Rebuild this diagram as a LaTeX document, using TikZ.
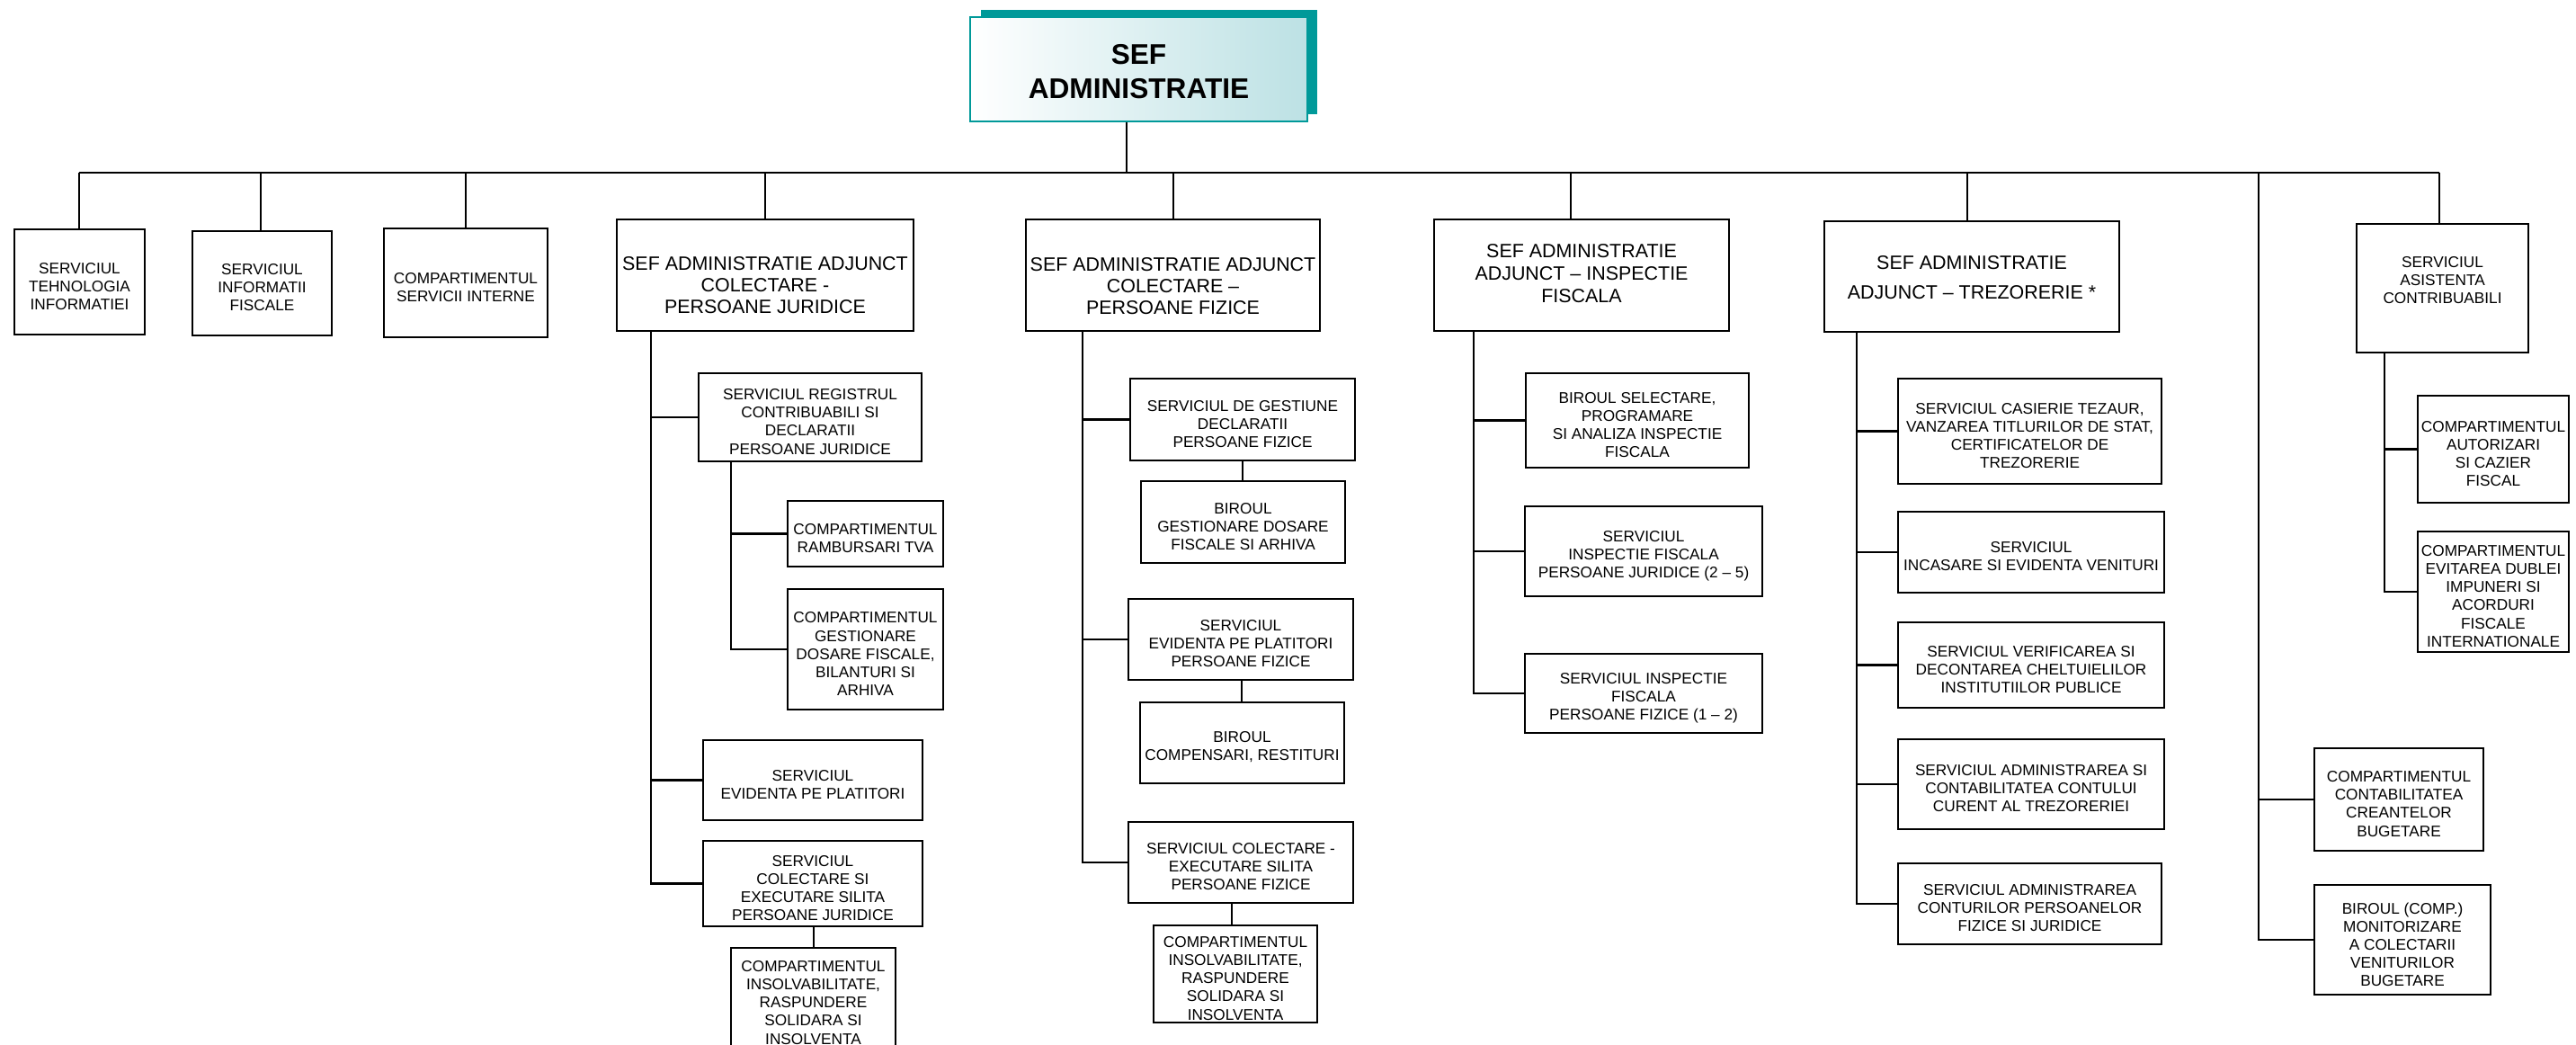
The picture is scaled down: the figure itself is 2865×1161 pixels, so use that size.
\documentclass[tikz,border=0pt]{standalone}
\usepackage{fontspec}
\setmainfont{Liberation Sans}
\usetikzlibrary{fit}
\definecolor{tealdark}{RGB}{0,153,153}
\definecolor{tealpale}{RGB}{188,225,228}
\tikzset{
  frame/.style={draw=black, line width=0.65pt, inner sep=0pt},
  basetxt/.style={align=center, inner sep=0pt, font=\fontsize{4.9}{5.7}\selectfont},
  txt/.style={basetxt, yshift=-0.5mm},
  deptxt/.style={align=center, inner sep=0pt, font=\fontsize{6.1}{6.85}\selectfont},
  conn/.style={draw=black, line width=0.65pt},
}
% \bx[text style]{name}{x1}{y1}{x2}{y2}{text}
\newcommand\bx[7][txt]{%
  \node[frame, fit={(#3,#4)(#5,#6)}] (#2) {};
  \node[#1] (#2-text) at (#2.center) {#7};}
\begin{document}
\begin{tikzpicture}[x=0.1mm, y=-0.1mm]
\useasboundingbox (0,0) rectangle (2865,1161);

% title
\node[fill=tealdark, inner sep=0pt, fit={(1091,11)(1465,127)}] (titleshadow) {};
\node[draw=tealdark, line width=0.8pt, inner sep=0pt, left color=white, right color=tealpale,
  fit={(1079,19)(1454,135)}] (title) {};
\node[align=center, inner sep=0pt, yshift=-0.25mm,
  font=\fontsize{9}{10.8}\selectfont\bfseries] (title-text) at (title.center) {SEF\\ADMINISTRATIE};

% first level
\bx{ti}{16}{255}{161}{372}{SERVICIUL\\TEHNOLOGIA\\INFORMATIEI}
\bx{info}{214}{257}{369}{373}{SERVICIUL\\INFORMATII\\FISCALE}
\bx{compint}{427}{254}{609}{375}{COMPARTIMENTUL\\SERVICII INTERNE}
\bx[{deptxt, yshift=-1.1mm}]{pj}{686}{244}{1016}{368}{SEF ADMINISTRATIE ADJUNCT\\COLECTARE -\\PERSOANE JURIDICE}
\bx[{deptxt, yshift=-1.2mm}]{pf}{1141}{244}{1468}{368}{SEF ADMINISTRATIE ADJUNCT\\COLECTARE --\\PERSOANE FIZICE}
\bx[{deptxt, font=\fontsize{6.1}{7.1}\selectfont, yshift=0.15mm}]{insp}{1595}{244}{1923}{368}{SEF ADMINISTRATIE\\ADJUNCT -- INSPECTIE\\FISCALA}
\bx[{deptxt, font=\fontsize{6.1}{9.4}\selectfont, yshift=-0.15mm}]{trez}{2029}{246}{2357}{369}{SEF ADMINISTRATIE\\ADJUNCT -- TREZORERIE *}
\bx[{basetxt, yshift=0.9mm}]{asist}{2621}{249}{2812}{392}{SERVICIUL\\ASISTENTA\\CONTRIBUABILI}

% bus coordinates
\coordinate (bti) at (88,192);
\coordinate (binfo) at (290,192);
\coordinate (bcomp) at (518,192);
\coordinate (bpj) at (851,192);
\coordinate (btitle) at (1253,192);
\coordinate (bpf) at (1305,192);
\coordinate (binsp) at (1747,192);
\coordinate (btrez) at (2188,192);
\coordinate (blong) at (2512,192);
\coordinate (basist) at (2713,192);

\draw[conn] (bti) -- (basist);
\draw[conn] (btitle |- title.south) -- (btitle);
\draw[conn] (bti) -- (bti |- ti.north);
\draw[conn] (binfo) -- (binfo |- info.north);
\draw[conn] (bcomp) -- (bcomp |- compint.north);
\draw[conn] (bpj) -- (bpj |- pj.north);
\draw[conn] (bpf) -- (bpf |- pf.north);
\draw[conn] (binsp) -- (binsp |- insp.north);
\draw[conn] (btrez) -- (btrez |- trez.north);
\draw[conn] (basist) -- (basist |- asist.north);

% PJ subtree
\bx{reg}{777}{415}{1025}{513}{SERVICIUL REGISTRUL\\CONTRIBUABILI SI\\DECLARATII\\PERSOANE JURIDICE}
\bx{ramb}{876}{557}{1049}{630}{COMPARTIMENTUL\\RAMBURSARI TVA}
\bx{gest}{876}{655}{1049}{789}{COMPARTIMENTUL\\GESTIONARE\\DOSARE FISCALE,\\BILANTURI SI\\ARHIVA}
\bx{evid}{782}{823}{1026}{912}{SERVICIUL\\EVIDENTA PE PLATITORI}
\bx{colect}{782}{935}{1026}{1030}{SERVICIUL\\COLECTARE SI\\EXECUTARE SILITA\\PERSOANE JURIDICE}
\bx{insolv}{813}{1054}{996}{1166}{COMPARTIMENTUL\\INSOLVABILITATE,\\RASPUNDERE\\SOLIDARA SI\\INSOLVENTA}
\coordinate (pjx) at (724,368);
\coordinate (regx) at (813,513);
\coordinate (colx) at (905,1030);
\draw[conn] (pj.south -| pjx) -- (pjx |- colect.west) -- (colect.west);
\draw[conn] (pjx |- reg.west) -- (reg.west);
\draw[conn] (pjx |- evid.west) -- (evid.west);
\draw[conn] (reg.south -| regx) -- (regx |- gest.west) -- (gest.west);
\draw[conn] (regx |- ramb.west) -- (ramb.west);
\draw[conn] (colect.south -| colx) -- (colx |- insolv.north);

% PF subtree
\bx{decl}{1257}{421}{1507}{512}{SERVICIUL DE GESTIUNE\\DECLARATII\\PERSOANE FIZICE}
\bx{birgest}{1269}{535}{1496}{626}{BIROUL\\GESTIONARE DOSARE\\FISCALE SI ARHIVA}
\bx{evidpf}{1255}{666}{1505}{756}{SERVICIUL\\EVIDENTA PE PLATITORI\\PERSOANE FIZICE}
\bx{compens}{1268}{781}{1495}{871}{BIROUL\\COMPENSARI, RESTITURI}
\bx{colpf}{1255}{914}{1505}{1004}{SERVICIUL COLECTARE -\\EXECUTARE SILITA\\PERSOANE FIZICE}
\bx{inspf}{1283}{1029}{1465}{1137}{COMPARTIMENTUL\\INSOLVABILITATE,\\RASPUNDERE\\SOLIDARA SI\\INSOLVENTA}
\coordinate (pfx) at (1204,368);
\coordinate (dx1) at (1382,512);
\coordinate (dx2) at (1381,756);
\coordinate (dx3) at (1370,1004);
\draw[conn] (pf.south -| pfx) -- (pfx |- colpf.west) -- (colpf.west);
\draw[conn] (pfx |- decl.west) -- (decl.west);
\draw[conn] (pfx |- evidpf.west) -- (evidpf.west);
\draw[conn] (decl.south -| dx1) -- (dx1 |- birgest.north);
\draw[conn] (evidpf.south -| dx2) -- (dx2 |- compens.north);
\draw[conn] (colpf.south -| dx3) -- (dx3 |- inspf.north);

% Inspectie subtree
\bx{sel}{1697}{415}{1945}{520}{BIROUL SELECTARE,\\PROGRAMARE\\SI ANALIZA INSPECTIE\\FISCALA}
\bx{ifpj}{1696}{563}{1960}{663}{SERVICIUL\\INSPECTIE FISCALA\\PERSOANE JURIDICE (2 -- 5)}
\bx{ifpf}{1696}{727}{1960}{815}{SERVICIUL INSPECTIE\\FISCALA\\PERSOANE FIZICE (1 -- 2)}
\coordinate (ifx) at (1639,368);
\draw[conn] (insp.south -| ifx) -- (ifx |- ifpf.west) -- (ifpf.west);
\draw[conn] (ifx |- sel.west) -- (sel.west);
\draw[conn] (ifx |- ifpj.west) -- (ifpj.west);

% Trezorerie subtree
\bx{cas}{2111}{421}{2404}{538}{SERVICIUL CASIERIE TEZAUR,\\VANZAREA TITLURILOR DE STAT,\\CERTIFICATELOR DE\\TREZORERIE}
\bx{inc}{2111}{569}{2407}{659}{SERVICIUL\\INCASARE SI EVIDENTA VENITURI}
\bx{ver}{2111}{692}{2407}{787}{SERVICIUL VERIFICAREA SI\\DECONTAREA CHELTUIELILOR\\INSTITUTIILOR PUBLICE}
\bx{adm1}{2111}{822}{2407}{922}{SERVICIUL ADMINISTRAREA SI\\CONTABILITATEA CONTULUI\\CURENT AL TREZORERIEI}
\bx{adm2}{2111}{960}{2404}{1050}{SERVICIUL ADMINISTRAREA\\CONTURILOR PERSOANELOR\\FIZICE SI JURIDICE}
\coordinate (tzx) at (2065,369);
\draw[conn] (trez.south -| tzx) -- (tzx |- adm2.west) -- (adm2.west);
\draw[conn] (tzx |- cas.west) -- (cas.west);
\draw[conn] (tzx |- inc.west) -- (inc.west);
\draw[conn] (tzx |- ver.west) -- (ver.west);
\draw[conn] (tzx |- adm1.west) -- (adm1.west);

% Asistenta subtree
\bx{aut}{2689}{440}{2857}{559}{COMPARTIMENTUL\\AUTORIZARI\\SI CAZIER\\FISCAL}
\bx{evit}{2689}{591}{2857}{725}{COMPARTIMENTUL\\EVITAREA DUBLEI\\IMPUNERI SI\\ACORDURI\\FISCALE\\INTERNATIONALE}
\coordinate (asx) at (2652,392);
\draw[conn] (asist.south -| asx) -- (asx |- evit.west) -- (evit.west);
\draw[conn] (asx |- aut.west) -- (aut.west);

% long branch
\bx{contab}{2574}{832}{2762}{946}{COMPARTIMENTUL\\CONTABILITATEA\\CREANTELOR\\BUGETARE}
\bx{bircomp}{2574}{984}{2770}{1106}{BIROUL (COMP.)\\MONITORIZARE\\A COLECTARII\\VENITURILOR\\BUGETARE}
\draw[conn] (blong) -- (blong |- bircomp.west) -- (bircomp.west);
\draw[conn] (blong |- contab.west) -- (contab.west);
\end{tikzpicture}
\end{document}
